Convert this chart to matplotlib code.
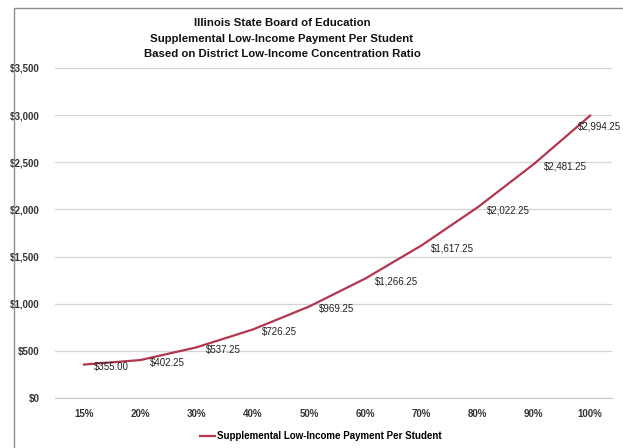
import matplotlib
matplotlib.use('Agg')
import matplotlib.pyplot as plt
from matplotlib.patches import Rectangle

plt.rcParams['font.family'] = ['Liberation Sans', 'DejaVu Sans']

categories = ['15%', '20%', '30%', '40%', '50%', '60%', '70%', '80%', '90%', '100%']
payment = [355.00, 402.25, 537.25, 726.25, 969.25, 1266.25, 1617.25, 2022.25, 2481.25, 2994.25]
yticks = [0, 500, 1000, 1500, 2000, 2500, 3000, 3500]
series_name = 'Supplemental Low-Income Payment Per Student'
title = ('Illinois State Board of Education\n'
         'Supplemental Low-Income Payment Per Student\n'
         'Based on District Low-Income Concentration Ratio')

fig = plt.figure(figsize=(6.23, 4.48), dpi=100)
# outer chart border
fig.patches.append(Rectangle((14/623, -0.05), 1.2, 1 - 8/448 + 0.05,
                             transform=fig.transFigure, fill=False,
                             edgecolor='#8c8c8c', linewidth=1.0))

ax = fig.add_axes([55/623, 1 - 398/448, (612 - 55)/623, (398 - 68)/448])
x = list(range(len(categories)))
line, = ax.plot(x, payment, color='#b3364f', linewidth=1.6, label=series_name)

for xi, v in zip(x, payment):
    off = (7, -2)
    if xi == len(x) - 1:
        off = (-9, -8)
    ax.annotate('${:,.2f}'.format(v), (xi, v), xytext=off,
                textcoords='offset points', ha='left', va='center',
                fontsize=7, color='#222222')

ax.set_xlim(-0.516, 9.39)
ax.set_ylim(0, 3500)
ax.set_xticks(x)
ax.set_xticklabels(categories, fontsize=7, fontweight='bold', color='#333333')
ax.set_yticks(yticks)
ax.set_yticklabels(['${:,.0f}'.format(t) for t in yticks], fontsize=7,
                   fontweight='bold', color='#333333')
ax.tick_params(length=0)
ax.tick_params(axis='x', pad=8)
ax.tick_params(axis='y', pad=11)
ax.grid(axis='y', color='#d4d4d4', linewidth=0.9)
ax.set_axisbelow(True)
for s in ['top', 'right', 'left']:
    ax.spines[s].set_visible(False)
ax.spines['bottom'].set_color('#c8c8c8')

fig.text(282/623, 1 - 38.5/448, title, ha='center', va='center',
         fontsize=8.2, fontweight='bold', linespacing=1.7, color='#111111')

fig.legend(handles=[line], loc='center', bbox_to_anchor=(321/623, 1 - 436/448),
           frameon=False, handlelength=1.5, handletextpad=0.3,
           prop={'weight': 'bold', 'size': 7})

fig.savefig('out.png', dpi=100)
